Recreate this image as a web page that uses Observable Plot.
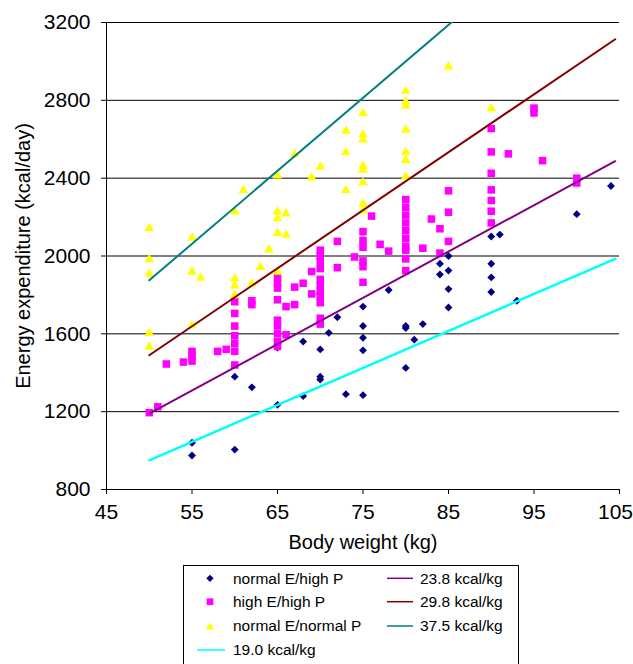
<!DOCTYPE html>
<html><head><meta charset="utf-8">
<script src="https://cdn.jsdelivr.net/npm/d3@7"></script>
<script src="https://cdn.jsdelivr.net/npm/@observablehq/plot@0.6"></script>
<style>
html,body{margin:0;padding:0;overflow:hidden;background:#fff;}
body{width:633px;height:664px;font-family:"Liberation Sans",Arial,sans-serif;}
#chart svg{display:block;}
#legend{width:633px;height:104px;}
#legend svg{display:block;}
</style></head><body>
<div id="chart"></div>
<div id="legend"></div>
<script>
// ---- data ----
const xTicks = [45, 55, 65, 75, 85, 95, 105];
const yTicks = [800, 1200, 1600, 2000, 2400, 2800, 3200];

const seriesNames = ["normal E/high P", "high E/high P", "normal E/normal P"];

const normalHighX = [55,55,60,60,62,65,65,68,68,70,70,70,71,72,73,75,75,75,75,75,78,80,80,80,81,82,84,84,85,85,85,85,90,90,90,90,91,93,100,104];
const normalHighY = [1040,975,1005,1380,1325,1530,1235,1560,1280,1520,1380,1365,1605,1685,1290,1740,1640,1580,1515,1285,1825,1640,1630,1425,1570,1650,1960,1905,2000,1925,1830,1735,2100,1960,1890,1815,2110,1770,2215,2360];

const highHighX = [50,51,52,54,55,55,55,58,59,
  60,60,60,60,60,60,60,
  62,62,
  65,65,65,65,65,65,65,65,65,
  66,66,67,67,68,69,69,
  70,70,70,70,70,70,70,70,70,70,70,
  72,72,74,
  75,75,75,75,75,75,
  76,77,78,
  80,80,80,80,80,80,80,80,80,80,
  82,83,84,84,85,85,85,
  90,90,90,90,90,90,90,
  92,95,95,96,100,100];
const highHighY = [1195,1225,1445,1455,1460,1485,1510,1510,1520,
  1765,1705,1640,1590,1550,1510,1440,
  1770,1750,
  1890,1860,1835,1775,1670,1640,1600,1560,1535,
  1740,1595,1840,1750,1860,1920,1805,
  2030,2000,1970,1935,1880,1850,1820,1790,1760,1680,1650,
  2075,1940,1995,
  2125,2080,2045,1975,1945,1865,
  2205,2060,2025,
  2290,2250,2210,2170,2130,2090,2050,2030,1985,1925,
  2040,2190,2140,2015,2335,2225,2075,
  2655,2535,2425,2340,2285,2230,2170,
  2525,2760,2735,2490,2400,2375];

const normalNormalX = [50,50,50,50,50,
  55,55,55,56,
  60,60,60,60,
  61,62,63,64,
  65,65,65,65,65,
  66,66,67,69,70,
  73,73,73,
  75,75,75,75,75,75,75,75,
  80,80,80,80,80,80,80,
  85,90];
const normalNormalY = [2150,1990,1915,1610,1540,
  2100,1925,1650,1895,
  2235,1890,1855,1805,
  2345,1865,1950,2040,
  2420,2235,2200,2125,1925,
  2225,2115,2530,2410,2465,
  2650,2540,2345,
  2740,2630,2605,2470,2450,2385,2275,2240,
  2855,2800,2780,2655,2540,2500,2415,
  2980,2765];

const lineFactors = [19.0, 23.8, 29.8, 37.5];        // kcal/kg
const lineLabels = ["19.0 kcal/kg", "23.8 kcal/kg", "29.8 kcal/kg", "37.5 kcal/kg"];
const lineXRange = [50, 104.5];

// ---- styles ----
const pointColors = ["#000080", "#FF00FF", "#FFFF00"];
const lineColors = ["#00FFFF", "#800080", "#800000", "#008080"];
const lineWidths = [2.5, 2, 2, 2];

const diamond = {draw(ctx, size) { const s = Math.sqrt(size / 2); ctx.moveTo(0, -s); ctx.lineTo(s, 0); ctx.lineTo(0, s); ctx.lineTo(-s, 0); ctx.closePath(); }};
const square = {draw(ctx, size) { const h = Math.sqrt(size) / 2; ctx.moveTo(-h, -h); ctx.lineTo(h, -h); ctx.lineTo(h, h); ctx.lineTo(-h, h); ctx.closePath(); }};
const triangle = {draw(ctx, size) { const a = Math.sqrt(size * 4 / Math.sqrt(3)); const t = a * Math.sqrt(3) / 2; ctx.moveTo(0, -t / 2); ctx.lineTo(a / 2, t / 2); ctx.lineTo(-a / 2, t / 2); ctx.closePath(); }};
const symbols = [diamond, square, triangle];
const radii = [3.15, 4.25, 3.6];

const toRows = (xs, ys) => xs.map((x, i) => ({x, y: ys[i]}));
const pointSets = [toRows(normalHighX, normalHighY), toRows(highHighX, highHighY), toRows(normalNormalX, normalNormalY)];
const lineSets = lineFactors.map(k => lineXRange.map(x => ({x, y: k * x})));

const font = "Liberation Sans, Arial, sans-serif";
const fmt = d => String(d);
const lastX = xTicks[xTicks.length - 1];

const chart = Plot.plot({
  width: 633, height: 560,
  marginLeft: 106, marginRight: 14, marginTop: 22, marginBottom: 71,
  x: {domain: [45, 105]},
  y: {domain: [800, 3200]},
  style: {fontFamily: font, fontSize: "21px", background: "white", color: "black", overflow: "visible"},
  marks: [
    Plot.gridY(yTicks.slice(1), {stroke: "#000", strokeOpacity: 1, strokeWidth: 1}),
    Plot.axisY(yTicks, {tickSize: 5, tickPadding: 11, fontSize: 21, tickFormat: fmt, label: null}),
    Plot.axisX(xTicks, {tickSize: 5, tickPadding: 10, fontSize: 21, tickFormat: d => d === lastX ? "" : String(d), label: null}),
    Plot.axisX([lastX], {tickSize: 0, tickPadding: 15, fontSize: 21, tickFormat: fmt, label: null, dx: -4}),
    Plot.ruleX([45], {stroke: "#000"}),
    Plot.ruleY([800], {stroke: "#000"}),
    ...pointSets.map((rows, i) => Plot.dot(rows, {x: "x", y: "y", symbol: () => symbols[i], r: radii[i], fill: pointColors[i], stroke: "none"})),
    ...lineSets.map((rows, i) => Plot.line(rows, {x: "x", y: "y", stroke: lineColors[i], strokeWidth: lineWidths[i], clip: true})),
    Plot.text(["Energy expenditure (kcal/day)"], {text: d => d, frameAnchor: "left", textAnchor: "middle", lineAnchor: "middle", rotate: -90, dx: -83, fontSize: 20}),
    Plot.text(["Body weight (kg)"], {text: d => d, frameAnchor: "bottom", textAnchor: "middle", lineAnchor: "middle", dy: 53, fontSize: 20})
  ]
});
document.getElementById("chart").appendChild(chart);

// ---- legend ----
const lg = d3.select("#legend").append("svg").attr("width", 633).attr("height", 104)
  .style("font-family", font).style("font-size", "15.5px");
lg.append("rect").attr("x", 183.5).attr("y", 5.5).attr("width", 335).attr("height", 130).attr("fill", "white").attr("stroke", "#000");
const rowY = [18.3, 41.7, 66, 90];
const legendR = [2.9, 3.8, 3.1];
seriesNames.forEach((name, i) => {
  lg.append("path").attr("transform", `translate(210,${rowY[i]})`)
    .attr("d", d3.symbol(symbols[i], legendR[i] * legendR[i] * Math.PI)()).attr("fill", pointColors[i]);
  lg.append("text").attr("x", 233).attr("y", rowY[i]).attr("dy", "0.35em").text(name);
});
// 19.0 line in column 1, row 4
lg.append("line").attr("x1", 197).attr("x2", 225).attr("y1", rowY[3]).attr("y2", rowY[3]).attr("stroke", lineColors[0]).attr("stroke-width", 1.5);
lg.append("text").attr("x", 233).attr("y", rowY[3]).attr("dy", "0.35em").text(lineLabels[0]);
for (let j = 1; j < 4; j++) {
  const yy = rowY[j - 1];
  lg.append("line").attr("x1", 387).attr("x2", 413).attr("y1", yy).attr("y2", yy).attr("stroke", lineColors[j]).attr("stroke-width", 1.5);
  lg.append("text").attr("x", 420).attr("y", yy).attr("dy", "0.35em").text(lineLabels[j]);
}
</script></body></html>
